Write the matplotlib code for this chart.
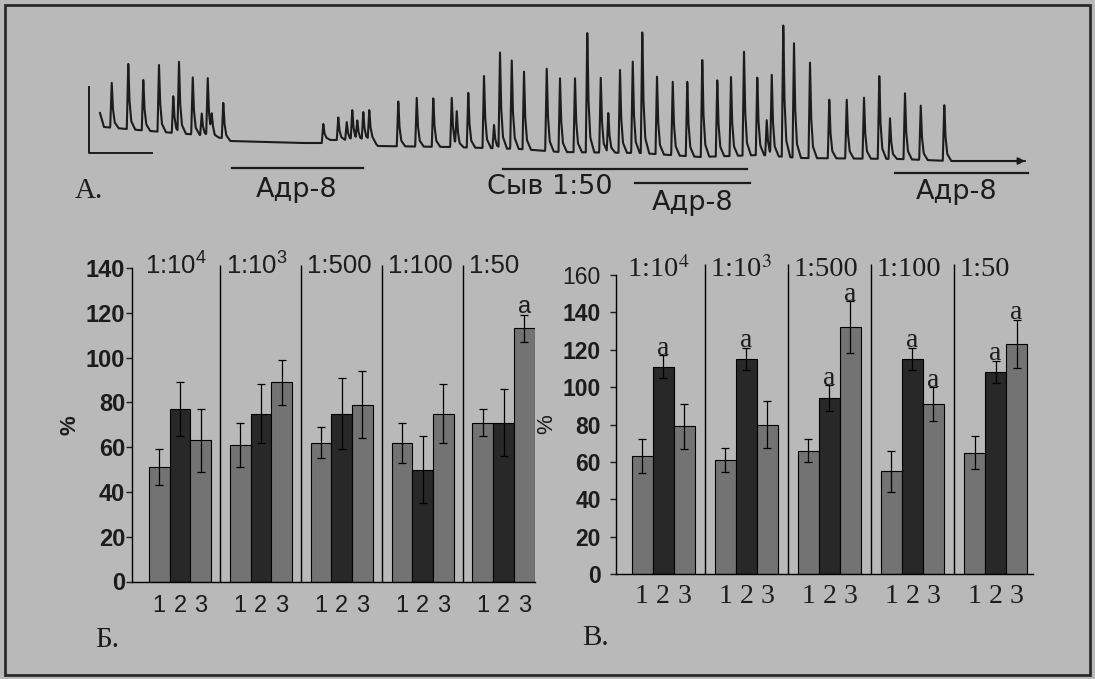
import numpy as np
import matplotlib
matplotlib.use('Agg')
import matplotlib.pyplot as plt
from matplotlib.patches import Rectangle

plt.rcParams['mathtext.fontset'] = 'custom'
plt.rcParams['mathtext.rm'] = 'Liberation Sans'
plt.rcParams['mathtext.it'] = 'Liberation Sans'

W, H = 1095, 679
BG = '#b9b9b9'
LIGHT = '#737373'
DARK = '#282828'
INK = '#1c1c1c'

# ---- панель А: запись сокращений (время, уровень) ----
base_t = [0, 4, 50, 100, 122, 130, 200, 222, 226, 272, 278, 350, 420, 460, 540, 600, 660, 700, 800, 850, 925]
base_lvl = [62, 48, 44, 40, 37, 34, 32, 32, 35, 35, 29, 28, 26, 23, 22, 18, 20, 17, 16, 14, 14]

spike_t = [11.7, 28.3, 43.3, 59, 73.3, 79, 92.7, 101.7, 107.7, 111.7, 123.3,
           223.3, 238.3, 246.7, 252.3, 257.3, 263.3, 269.3,
           298.3, 316.7, 333.3, 351.7, 356.7, 368.3, 384, 394, 400, 411.7, 424,
           446.7, 460, 475, 487.3, 500.7, 508.3, 520, 532.7, 542.3, 557, 572.7,
           587.3, 602.3, 617.3, 631, 644, 657.3, 666.7, 671.7, 683.3, 694, 710,
           729.3, 746.7, 764, 779.3, 790, 805, 820.7, 844.3]
spike_peak = [93.3, 113.3, 96.7, 110, 80, 111.7, 99, 62, 97.7, 57, 73.3,
              51.7, 58.3, 53.3, 65, 53.3, 63.3, 65,
              75, 78.3, 78.3, 78.3, 61.7, 84, 99, 50, 121.7, 116.7, 103.3,
              108.3, 96.7, 96.7, 146, 99, 63.3, 105, 115.7, 146.7, 98.3, 95,
              95.7, 118.3, 97.3, 98, 123.3, 100, 55.7, 100, 154, 131.7, 112.3,
              77.3, 76.7, 77.3, 101.7, 56.7, 81.7, 70.7, 71.7]

scale_time = 63
scale_amp = 66

# ---- панели Б и В: % ----
groups = ['1:10$^4$', '1:10$^3$', '1:500', '1:100', '1:50']
bar_labels = ['1', '2', '3']

b_means = [[51, 77, 63], [61, 75, 89], [62, 75, 79], [62, 50, 75], [71, 71, 113]]
b_errs = [[8, 12, 14], [10, 13, 10], [7, 16, 15], [9, 15, 13], [6, 15, 6]]
b_sig = [(4, 2)]

v_means = [[63, 111, 79], [61, 115, 80], [66, 94, 132], [55, 115, 91], [65, 108, 123]]
v_errs = [[9, 6, 12], [6.5, 6, 12.5], [6, 7, 14], [11, 6, 9], [9, 6, 13]]
v_sig = [(0, 1), (1, 1), (2, 1), (2, 2), (3, 1), (3, 2), (4, 1), (4, 2)]


def px_box(left, top, right, bottom):
    return [left / W, 1 - bottom / H, (right - left) / W, (bottom - top) / H]


def spike_shape(dt):
    # быстрый подъём, медленный спад
    return np.interp(dt, [-1.5, 0, 1.2, 3.0, 7.0], [0, 1, 0.42, 0.12, 0], left=0, right=0)


def draw_trace(ax):
    t = np.arange(0, 925, 0.25)
    y = np.interp(t, base_t, base_lvl)
    for t0, pk in zip(spike_t, spike_peak):
        amp = pk - np.interp(t0, base_t, base_lvl)
        y = y + amp * spike_shape(t - t0)
    ax.plot(t, y, color=INK, lw=1.5)
    ax.annotate('', xy=(928, 14), xytext=(905, 14),
                arrowprops=dict(arrowstyle='-|>', color=INK, lw=1.4, mutation_scale=10))
    # масштабная метка
    ax.plot([-11, -11, -11 + scale_time], [22 + scale_amp, 22, 22], color=INK, lw=1.4)

    sans = ['DejaVu Sans']
    ax.plot([131.7, 263.3], [7, 7], color=INK, lw=1.6)
    ax.text(196.7, -15, 'Адр-8', family=sans, fontsize=19.5, ha='center', va='center', color=INK)
    ax.plot([403, 647], [6, 6], color=INK, lw=1.6)
    ax.text(387, -12, 'Сыв 1:50', family=sans, fontsize=19.5, ha='left', va='center', color=INK)
    ax.plot([535, 650], [-8, -8], color=INK, lw=1.6)
    ax.text(593, -28, 'Адр-8', family=sans, fontsize=19.5, ha='center', va='center', color=INK)
    ax.plot([795, 928], [2, 2], color=INK, lw=1.6)
    ax.text(857, -17, 'Адр-8', family=sans, fontsize=19.5, ha='center', va='center', color=INK)
    ax.text(-25, -16, 'А.', family=['Liberation Serif'], fontsize=21, ha='left', va='center', color=INK)


def draw_bars(ax, means, errs, sig, width, serif, top_val, sep_top, label_y,
              tick_fs, label_fs, xlab_fs, xlab_pad, a_gap):
    means = np.array(means, dtype=float)
    errs = np.array(errs, dtype=float)
    fam = ['Liberation Serif'] if serif else ['Liberation Sans']
    mfam = 'stix' if serif else 'custom'
    colors = [LIGHT, DARK, LIGHT]
    xs_all, labs = [], []
    for g in range(len(groups)):
        for k in range(3):
            x = g + (k - 1) * width
            ax.bar(x, means[g, k], width=width, color=colors[k], edgecolor='black', linewidth=0.8, zorder=2)
            ax.errorbar(x, means[g, k], yerr=errs[g, k], color='black', lw=0.9,
                        capsize=3, capthick=0.9, zorder=3)
            xs_all.append(x)
            labs.append(bar_labels[k])
        ax.text(g - 0.43, label_y, groups[g], family=fam, math_fontfamily=mfam,
                fontsize=label_fs, ha='left', va='center', color=INK)
    for g, k in sig:
        x = g + (k - 1) * width
        ax.text(x, means[g, k] + errs[g, k] + a_gap, 'a', family=fam, fontsize=xlab_fs,
                ha='center', va='baseline', color=INK)
    ax.vlines([g + 0.5 for g in range(len(groups) - 1)], 0, sep_top, color='black', lw=1.0, clip_on=False)

    ax.set_ylim(0, top_val)
    ax.set_yticks(np.arange(0, top_val + 1, 20))
    ax.set_xticks(xs_all)
    ax.set_xticklabels(labs, family=fam, fontsize=xlab_fs, color=INK)
    ax.tick_params(axis='x', length=0, pad=xlab_pad)
    ax.tick_params(axis='y', length=4, width=1, direction='out', labelsize=tick_fs, colors=INK)
    for lab in ax.get_yticklabels():
        lab.set_fontweight('bold')
        lab.set_family(['Liberation Sans'])
    for side in ['top', 'right']:
        ax.spines[side].set_visible(False)
    for side in ['left', 'bottom']:
        ax.spines[side].set_color('black')
        ax.spines[side].set_linewidth(1.0)
    ax.set_facecolor('none')


fig = plt.figure(figsize=(W / 100, H / 100), dpi=100)
fig.patch.set_facecolor(BG)

ax_a = fig.add_axes(px_box(85, 15, 1030, 215))
ax_a.set_xlim(-15, 930)
ax_a.set_ylim(-40, 160)
ax_a.axis('off')
draw_trace(ax_a)

ax_b = fig.add_axes(px_box(132, 268, 535, 581.5))
ax_b.set_xlim(-0.593, 4.389)
draw_bars(ax_b, b_means, b_errs, b_sig, 0.256, False, 140, 141.5, 141, 17, 18.5, 17, 10, 1.0)
ax_b.tick_params(axis='y', pad=1)
ax_b.set_ylabel('%', family=['Liberation Sans'], fontweight='bold', fontsize=16, labelpad=4, color=INK)

ax_v = fig.add_axes(px_box(616, 275, 1033, 574))
ax_v.set_xlim(-0.566, 4.45)
draw_bars(ax_v, v_means, v_errs, v_sig, 0.253, True, 160, 166, 163, 16.5, 20.5, 20, 7, 0.3)
ax_v.tick_params(axis='y', pad=7)
ax_v.get_yticklabels()[-1].set_fontweight('normal')
ax_v.set_ylabel('%', family=['Liberation Sans'], fontsize=16, labelpad=4, color=INK)

fig.text(95 / W, 1 - 640 / H, 'Б.', family=['Liberation Serif'], fontsize=21, ha='left', va='center', color=INK)
fig.text(582 / W, 1 - 638 / H, 'В.', family=['Liberation Serif'], fontsize=21, ha='left', va='center', color=INK)

fig.add_artist(Rectangle((5 / W, 4 / H), 1085 / W, 670 / H, transform=fig.transFigure,
                         fill=False, edgecolor='#2a2a2a', lw=2))

fig.savefig('out.png', dpi=100, facecolor=fig.get_facecolor())
